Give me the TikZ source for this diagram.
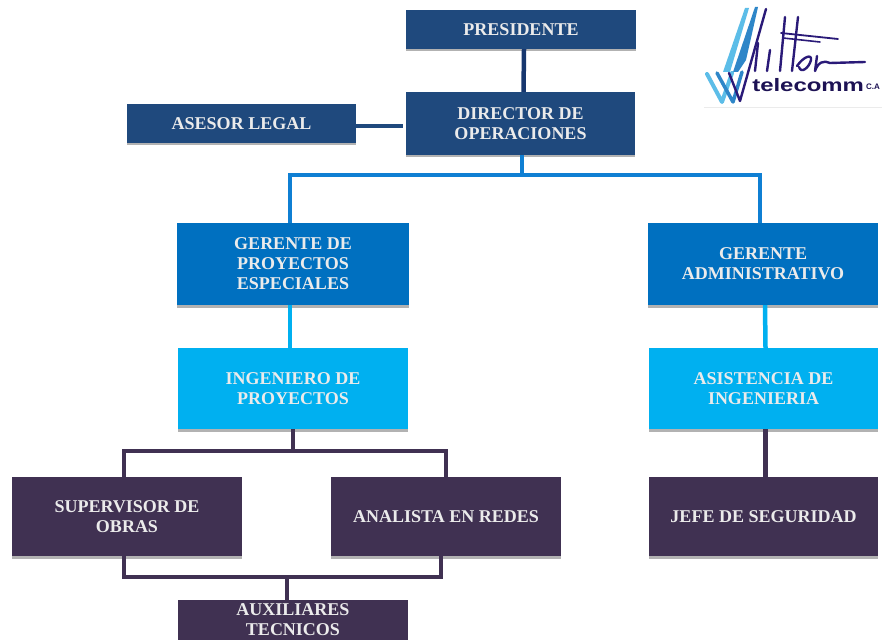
\documentclass[tikz,border=0pt]{standalone}
\usepackage{fontspec}
\setmainfont{Liberation Serif}
\newfontfamily\logofont{Liberation Sans}
\usepackage{tikz}
\usetikzlibrary{shadows}
\definecolor{navybox}{HTML}{1F497D}
\definecolor{bluebox}{HTML}{0070C0}
\definecolor{skybox}{HTML}{00B0F0}
\definecolor{plumbox}{HTML}{403152}
\definecolor{busblue}{HTML}{0F7FD3}
\definecolor{linknavy}{HTML}{17376F}
\definecolor{logosky}{HTML}{5CBDE8}
\definecolor{logomid}{HTML}{2E86C8}
\definecolor{logoink}{HTML}{2A1A78}
\tikzset{
  cargo/.style={draw=none, text=white!92!black, align=center, inner sep=0pt,
    font=\fontsize{18}{20}\selectfont\bfseries,
    drop shadow={shadow xshift=0pt, shadow yshift=-2.5pt, opacity=0.3, fill=black}},
  navy/.style={cargo, fill=navybox},
  blue/.style={cargo, fill=bluebox},
  sky/.style={cargo, fill=skybox},
  plum/.style={cargo, fill=plumbox},
  link/.style={line width=4.5pt},
  logostroke/.style={line cap=round, line join=round, logoink, line width=2.4pt}
}
\begin{document}
\begin{tikzpicture}[x=1pt, y=-1pt]
\useasboundingbox (0,0) rectangle (882,639);
\node[navy, minimum width=230pt, minimum height=39pt] (pres) at (521,29.5) {PRESIDENTE};
\node[navy, minimum width=229pt, minimum height=63pt] (dir) at (520.5,123.5) {DIRECTOR DE\\OPERACIONES};
\node[navy, minimum width=229pt, minimum height=39pt] (ases) at (241.5,123.5) {ASESOR LEGAL};
\node[blue, minimum width=232pt, minimum height=82pt] (gproy) at (293,264) {GERENTE DE\\PROYECTOS\\ESPECIALES};
\node[blue, minimum width=230pt, minimum height=82pt] (gadm) at (763,264) {GERENTE\\ADMINISTRATIVO};
\node[sky, minimum width=230pt, minimum height=81pt] (ing) at (293,388.5) {INGENIERO DE\\PROYECTOS};
\node[sky, minimum width=229pt, minimum height=81pt] (asis) at (763.5,388.5) {ASISTENCIA DE\\INGENIERIA};
\node[plum, minimum width=230pt, minimum height=79pt] (sup) at (127,516.5) {SUPERVISOR DE\\OBRAS};
\node[plum, minimum width=230pt, minimum height=79pt] (ana) at (446,516.5) {ANALISTA EN REDES};
\node[plum, minimum width=229pt, minimum height=79pt] (jefe) at (763.5,516.5) {JEFE DE SEGURIDAD};
\node[plum, minimum width=230pt, minimum height=40pt] (aux) at (293,620) {AUXILIARES\\TECNICOS};
\coordinate (busdir) at (522,175);
\coordinate (busing) at (293,451);
\coordinate (busobr) at (287,577);
\coordinate (asesend) at (403,126);
\draw[link, linknavy] ([xshift=3pt]pres.south) -- ([xshift=3pt]dir.north);
\draw[line width=3.5pt, navybox] (ases.east |- asesend) -- (asesend);
\draw[link, busblue] (dir.south -| busdir) -- (busdir);
\draw[link, busblue] ([xshift=-3pt]gproy.north) |- (busdir) -| ([xshift=-3pt]gadm.north);
\draw[link, skybox] ([xshift=-3pt]gproy.south) -- ([xshift=-3pt]ing.north);
\draw[link, skybox] ([xshift=2pt]gadm.south) -- ([xshift=2pt]asis.north);
\draw[link, plumbox] (ing.south) -- (busing);
\draw[link, plumbox] ([xshift=-3pt,yshift=-2pt]sup.north) |- (busing) -| (ana.north);
\draw[link, plumbox] ([xshift=2pt]asis.south) -- ([xshift=2pt]jefe.north);
\draw[link, plumbox] ([xshift=-3pt]sup.south) |- (busobr) -| ([xshift=-5pt]ana.south);
\draw[link, plumbox] (busobr) -- (busobr |- aux.north);
\fill[white, drop shadow={shadow xshift=0pt, shadow yshift=-1pt, opacity=0.08, fill=black}] (704,8) rectangle (882,107);
\fill[logosky] (745,8) -- (749,8) -- (730,72) -- (723,72) -- cycle;
\fill[logomid] (755,7) -- (758,7) -- (746,60) -- (738,72) -- (733,72) -- cycle;
\draw[line join=round, line cap=round, logosky, line width=4pt] (707,74) -- (722,102) -- (732,73);
\draw[line join=round, line cap=round, logomid, line width=3.5pt] (717,73) -- (733,102) -- (742,72);
\draw[logostroke] (729,73) -- (740,101) -- (766,9);
\draw[logostroke] (758,43) -- (755,71);
\draw[logostroke] (785,17) -- (780,71);
\draw[logostroke] (798,17) -- (792,71);
\draw[logostroke] (770,50) -- (767,71);
\draw[logostroke, line width=1.8pt] (781,33) -- (838,39);
\draw[logostroke, line width=1.6pt] (783,38) -- (820,42);
\draw[logostroke] (797,66) .. controls (804,56) and (812,54) .. (811,60) .. controls (809,68) and (801,74) .. (799,67);
\draw[logostroke] (817,56) -- (815,71) .. controls (818,62) and (824,60) .. (830,63) -- (865,62);
\node[inner sep=0pt, anchor=west, text=logoink!70!black, font=\logofont\bfseries\fontsize{18}{18}\selectfont, xscale=1.33, transform shape] (tele) at (752,85) {telecomm};
\node[inner sep=0pt, anchor=west, text=logoink!70!black, font=\logofont\bfseries\fontsize{8}{8}\selectfont] (ca) at (866,87) {C.A};
\end{tikzpicture}
\end{document}
